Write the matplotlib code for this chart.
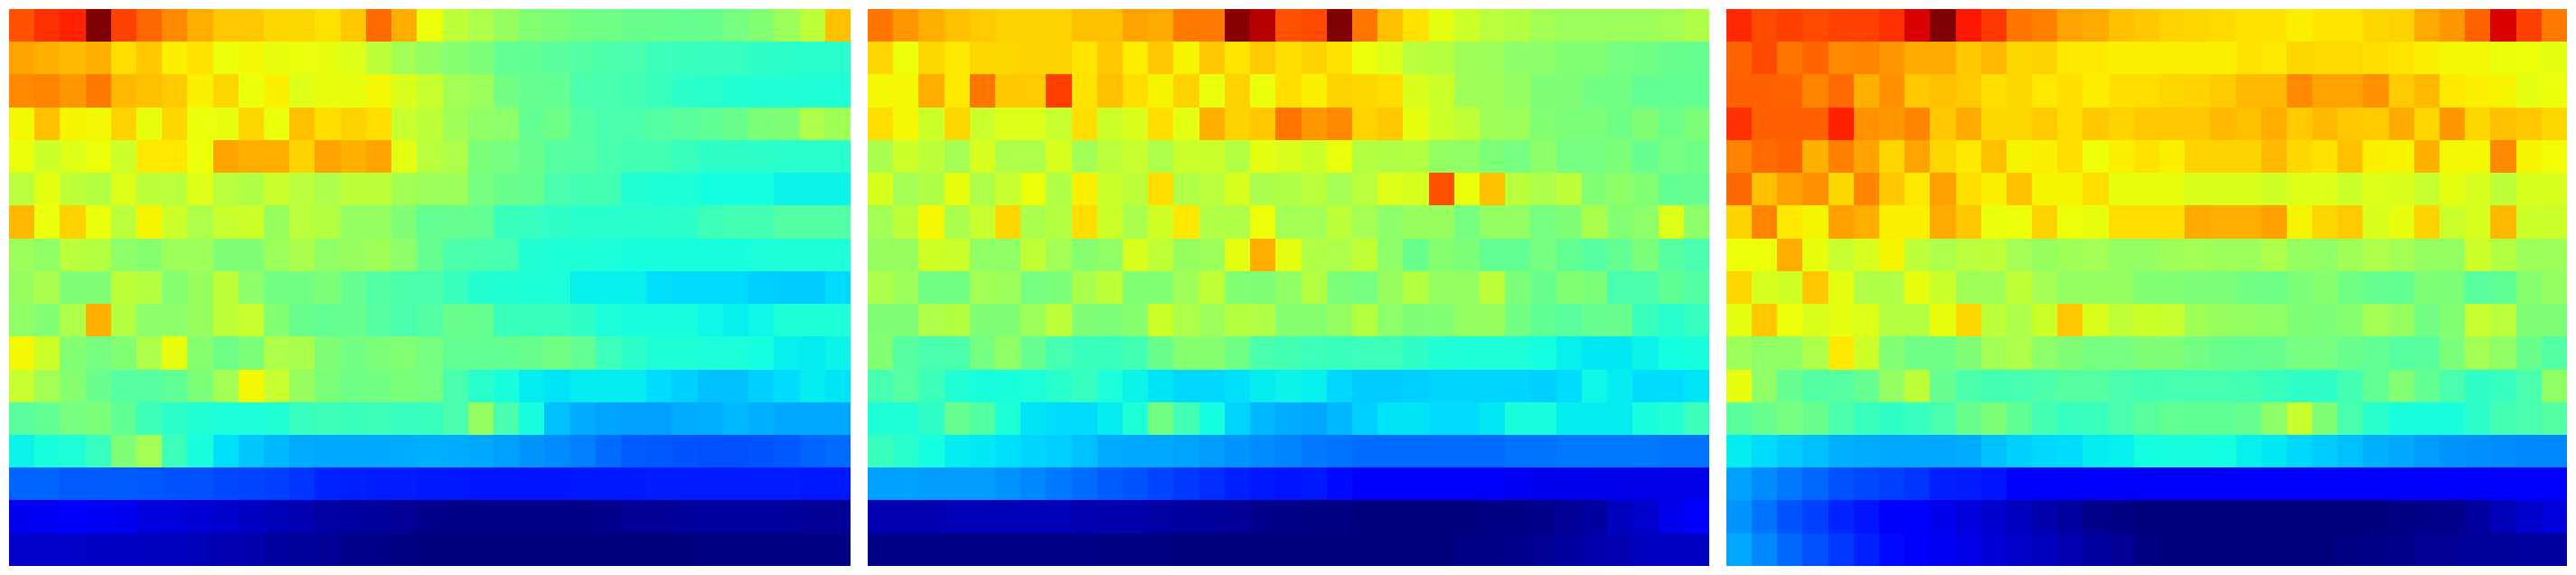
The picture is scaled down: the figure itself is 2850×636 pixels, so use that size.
import numpy as np
import matplotlib
matplotlib.use("Agg")
import matplotlib.pyplot as plt
from matplotlib.colors import FuncNorm

# values in thousandths of the colour range; 17 rows x 33 columns per panel
panel_a = [
 [800,850,870,1000,820,775,740,710,690,690,675,675,665,690,770,710,640, 580,560,535,510,500,490,485,480,480,475,480,495,510,540,580,695],
 [720,705,700,705,670,690,655,665,640,645,630,635,630,620,580,550,530, 515,500,470,465,460,450,445,440,425,420,415,415,410,405,400,400],
 [740,745,730,755,700,695,685,655,675,635,655,620,630,630,645,615,590, 550,540,490,475,470,440,435,430,420,405,400,390,390,390,385,385],
 [645,695,650,645,680,630,675,635,630,675,635,695,668,680,668,590,580, 545,525,520,470,485,450,440,445,450,460,465,480,500,505,560,545],
 [635,600,620,640,600,660,660,640,720,710,710,680,720,705,720,625,575, 560,500,495,480,455,455,440,430,430,420,410,410,405,400,400,400],
 [575,625,580,570,620,580,575,620,575,565,595,575,560,580,580,550,540, 540,495,480,475,440,430,430,390,385,385,370,370,370,360,360,360],
 [700,635,680,635,575,650,600,560,590,600,535,575,570,530,530,505,470, 475,470,420,415,410,400,400,400,400,405,425,430,430,450,450,450],
 [540,525,575,570,520,515,540,540,505,505,540,555,525,535,545,520,475, 445,440,435,390,385,385,380,375,375,375,375,375,380,385,385,385],
 [535,555,505,505,580,570,515,535,580,520,490,490,500,475,450,445,440, 420,395,390,385,380,355,355,355,335,330,330,330,315,310,310,330],
 [525,510,560,705,570,520,520,535,580,590,510,480,470,475,455,440,450, 480,475,420,420,420,410,380,375,375,375,365,355,365,385,385,385],
 [645,600,510,495,510,560,630,515,485,500,560,555,505,490,500,510,495, 470,470,470,480,490,470,425,405,385,385,380,380,370,355,350,360],
 [590,550,515,480,455,455,465,500,550,645,590,535,500,485,490,500,495, 440,400,375,350,340,350,350,350,330,315,300,300,315,330,350,340],
 [460,470,495,500,465,425,405,390,380,380,390,415,425,420,425,415,420, 440,530,440,375,300,285,275,270,270,285,290,295,290,280,280,280],
 [360,375,385,415,505,550,425,375,335,305,295,285,280,280,280,285,290, 285,280,270,260,250,235,220,205,200,195,190,190,195,200,210,220],
 [210,210,205,205,205,200,195,190,185,180,175,165,155,150,145,145,140, 140,135,135,135,135,140,140,140,145,145,145,145,145,145,140,140],
 [100,105,110,105,100,85,80,75,70,60,50,45,35,30,25,20,15, 10,10,10,10,10,10,15,20,20,25,30,30,30,25,20,20],
 [65,65,65,60,60,55,55,50,45,40,30,25,20,15,10,5,0, 0,0,0,0,0,0,0,0,0,0,5,5,5,5,5,5],
]

panel_b = [
 [760,730,710,695,685,680,680,680,695,695,720,715,755,755,990,950,800, 810,1000,760,695,665,625,600,575,570,550,540,540,540,540,550,565],
 [675,640,675,660,675,675,678,680,663,690,658,690,652,690,663,685,670, 680,665,640,620,575,570,545,540,520,520,510,510,495,490,480,475],
 [648,648,710,660,760,690,685,825,665,695,668,650,680,635,680,635,668, 655,680,675,670,615,600,545,545,530,505,505,490,490,470,470,470],
 [670,645,600,675,595,620,620,590,668,600,615,668,625,705,680,690,760, 730,740,680,690,630,600,585,545,540,510,500,500,485,505,485,500],
 [555,600,580,550,610,560,560,610,550,575,590,560,595,595,570,625,615, 600,635,570,565,570,530,525,500,495,520,495,495,500,475,495,485],
 [610,550,565,630,560,590,640,565,655,595,580,668,565,575,610,555,565, 575,550,575,620,610,800,635,695,575,560,580,510,520,510,470,475],
 [550,580,648,555,590,675,555,570,670,600,555,605,660,565,565,640,550, 550,580,550,520,535,535,495,530,530,495,505,555,510,520,620,520],
 [535,535,605,595,525,525,585,550,515,525,610,585,535,540,625,710,625, 565,560,585,520,480,515,500,470,470,495,470,455,470,500,455,440],
 [560,540,490,490,550,540,495,500,555,580,510,510,545,585,510,505,525, 570,500,495,535,570,530,530,580,500,480,510,500,440,445,465,450],
 [505,505,560,570,505,505,540,580,505,500,515,600,560,540,570,565,515, 515,530,570,520,505,510,530,535,490,465,460,475,480,420,400,415],
 [510,455,440,445,495,525,475,435,420,420,430,480,515,515,485,440,430, 425,420,425,425,410,390,385,385,385,370,355,345,345,360,370,375],
 [435,455,425,390,375,375,380,400,415,380,360,340,325,325,335,350,360, 355,325,310,310,315,320,320,320,320,315,330,365,350,330,330,340],
 [385,385,410,475,450,385,340,330,330,350,385,490,430,370,320,295,285, 280,295,315,340,340,330,330,345,375,375,350,350,350,375,390,425],
 [420,400,370,350,345,335,320,315,300,285,280,280,275,265,260,250,240, 230,225,220,220,220,220,220,220,225,225,230,230,230,230,225,225],
 [270,270,265,265,265,260,245,230,220,205,195,180,170,160,150,140,135, 140,130,120,120,120,120,115,110,105,100,100,95,95,90,90,90],
 [45,45,45,50,50,50,50,50,45,40,40,35,30,25,20,15,10, 5,5,0,0,0,0,2,5,5,15,20,30,55,70,95,120],
 [10,10,10,10,10,10,10,10,10,5,5,5,2,0,0,0,0, 0,0,0,0,0,0,10,10,15,20,30,40,45,55,60,60],
]

panel_c = [
 [860,810,825,810,820,820,850,920,1000,885,840,760,750,720,715,695,690, 680,675,672,665,665,655,662,662,675,680,715,730,780,920,830,755],
 [780,810,760,780,740,745,730,715,715,690,700,675,680,660,660,655,655, 655,655,655,665,660,675,672,672,668,662,655,645,645,635,640,625],
 [785,785,780,745,770,705,735,690,695,685,670,675,660,668,657,668,668, 675,678,685,700,700,740,720,720,735,685,700,660,655,650,625,635],
 [850,785,785,785,870,735,730,745,690,715,675,675,685,670,690,680,690, 690,690,700,695,710,685,700,690,685,715,675,730,675,695,690,675],
 [745,770,780,705,750,720,675,720,675,660,695,650,655,668,640,655,665, 655,680,680,680,700,675,665,695,655,650,705,645,645,740,652,642],
 [775,695,725,735,675,745,690,660,725,668,655,695,652,650,668,630,630, 630,615,615,615,605,620,620,600,620,615,590,625,610,580,610,610],
 [680,745,660,650,725,710,655,655,715,690,635,640,680,640,630,668,668, 668,715,710,710,725,650,675,685,615,630,680,595,610,700,600,595],
 [640,640,710,630,590,610,652,580,560,575,580,550,535,545,550,530,530, 545,550,540,540,560,535,525,545,560,550,530,530,600,570,540,540],
 [675,610,605,690,625,565,565,630,595,545,545,585,550,530,530,530,510, 510,500,500,490,485,500,515,490,475,470,505,500,460,465,515,530],
 [625,690,640,615,625,620,570,570,630,675,580,560,600,690,615,585,600, 590,545,535,530,525,505,500,515,550,535,490,510,590,575,505,505],
 [540,525,525,560,660,600,510,485,485,505,550,560,520,505,495,495,505, 505,490,480,475,480,495,495,480,470,455,460,500,550,525,480,450],
 [630,525,475,450,455,475,530,580,475,445,430,435,445,455,455,440,430, 435,435,435,430,420,410,410,430,470,510,470,440,410,415,440,525],
 [460,475,495,480,445,420,410,415,440,480,500,465,430,415,420,440,460, 470,465,465,475,520,590,505,440,400,375,375,375,405,430,440,450],
 [350,330,310,300,290,285,280,280,280,285,300,315,325,330,350,355,370, 375,375,370,355,345,325,310,300,290,280,265,260,255,250,245,245],
 [270,250,230,215,195,185,175,165,150,145,135,125,120,115,115,110,110, 115,115,115,115,115,115,115,115,115,115,115,115,115,115,115,115],
 [260,225,195,175,155,135,120,115,95,85,70,55,40,30,15,5,0, 0,0,0,0,0,0,0,0,0,5,10,15,30,50,70,80],
 [280,245,215,190,170,150,130,115,105,90,75,65,55,45,30,20,5, 0,0,0,0,0,0,0,5,10,15,20,20,25,25,30,30],
]

panels = [panel_a, panel_b, panel_c]

# colour scale: value read -> position on the jet colormap
scale_read = [0, 120, 135, 155, 180, 210, 235, 270, 290, 305, 330, 355, 370, 400,
              655, 675, 690, 705, 720, 740, 760, 780, 810, 850, 890, 1000]
scale_jet = [0, .120, .145, .164, .194, .223, .250, .282, .300, .321, .341, .360, .375, .400,
             .655, .682, .698, .720, .735, .762, .783, .804, .830, .857, .890, 1.0]
norm = FuncNorm((lambda v: np.interp(v, scale_read, scale_jet),
                 lambda c: np.interp(c, scale_jet, scale_read)), vmin=0, vmax=1000)

W, H = 2850, 636
lefts = [10, 960, 1910]
ax_w, top, bottom = 930, 10, 626

fig = plt.figure(figsize=(W / 100, H / 100), dpi=100, facecolor="white")
for left, panel in zip(lefts, panels):
    ax = fig.add_axes([left / W, 1 - bottom / H, ax_w / W, (bottom - top) / H])
    ax.imshow(np.array(panel, dtype=float), cmap="jet", norm=norm,
              aspect="auto", interpolation="nearest")
    ax.axis("off")

fig.savefig("out.png", dpi=100, facecolor="white")
